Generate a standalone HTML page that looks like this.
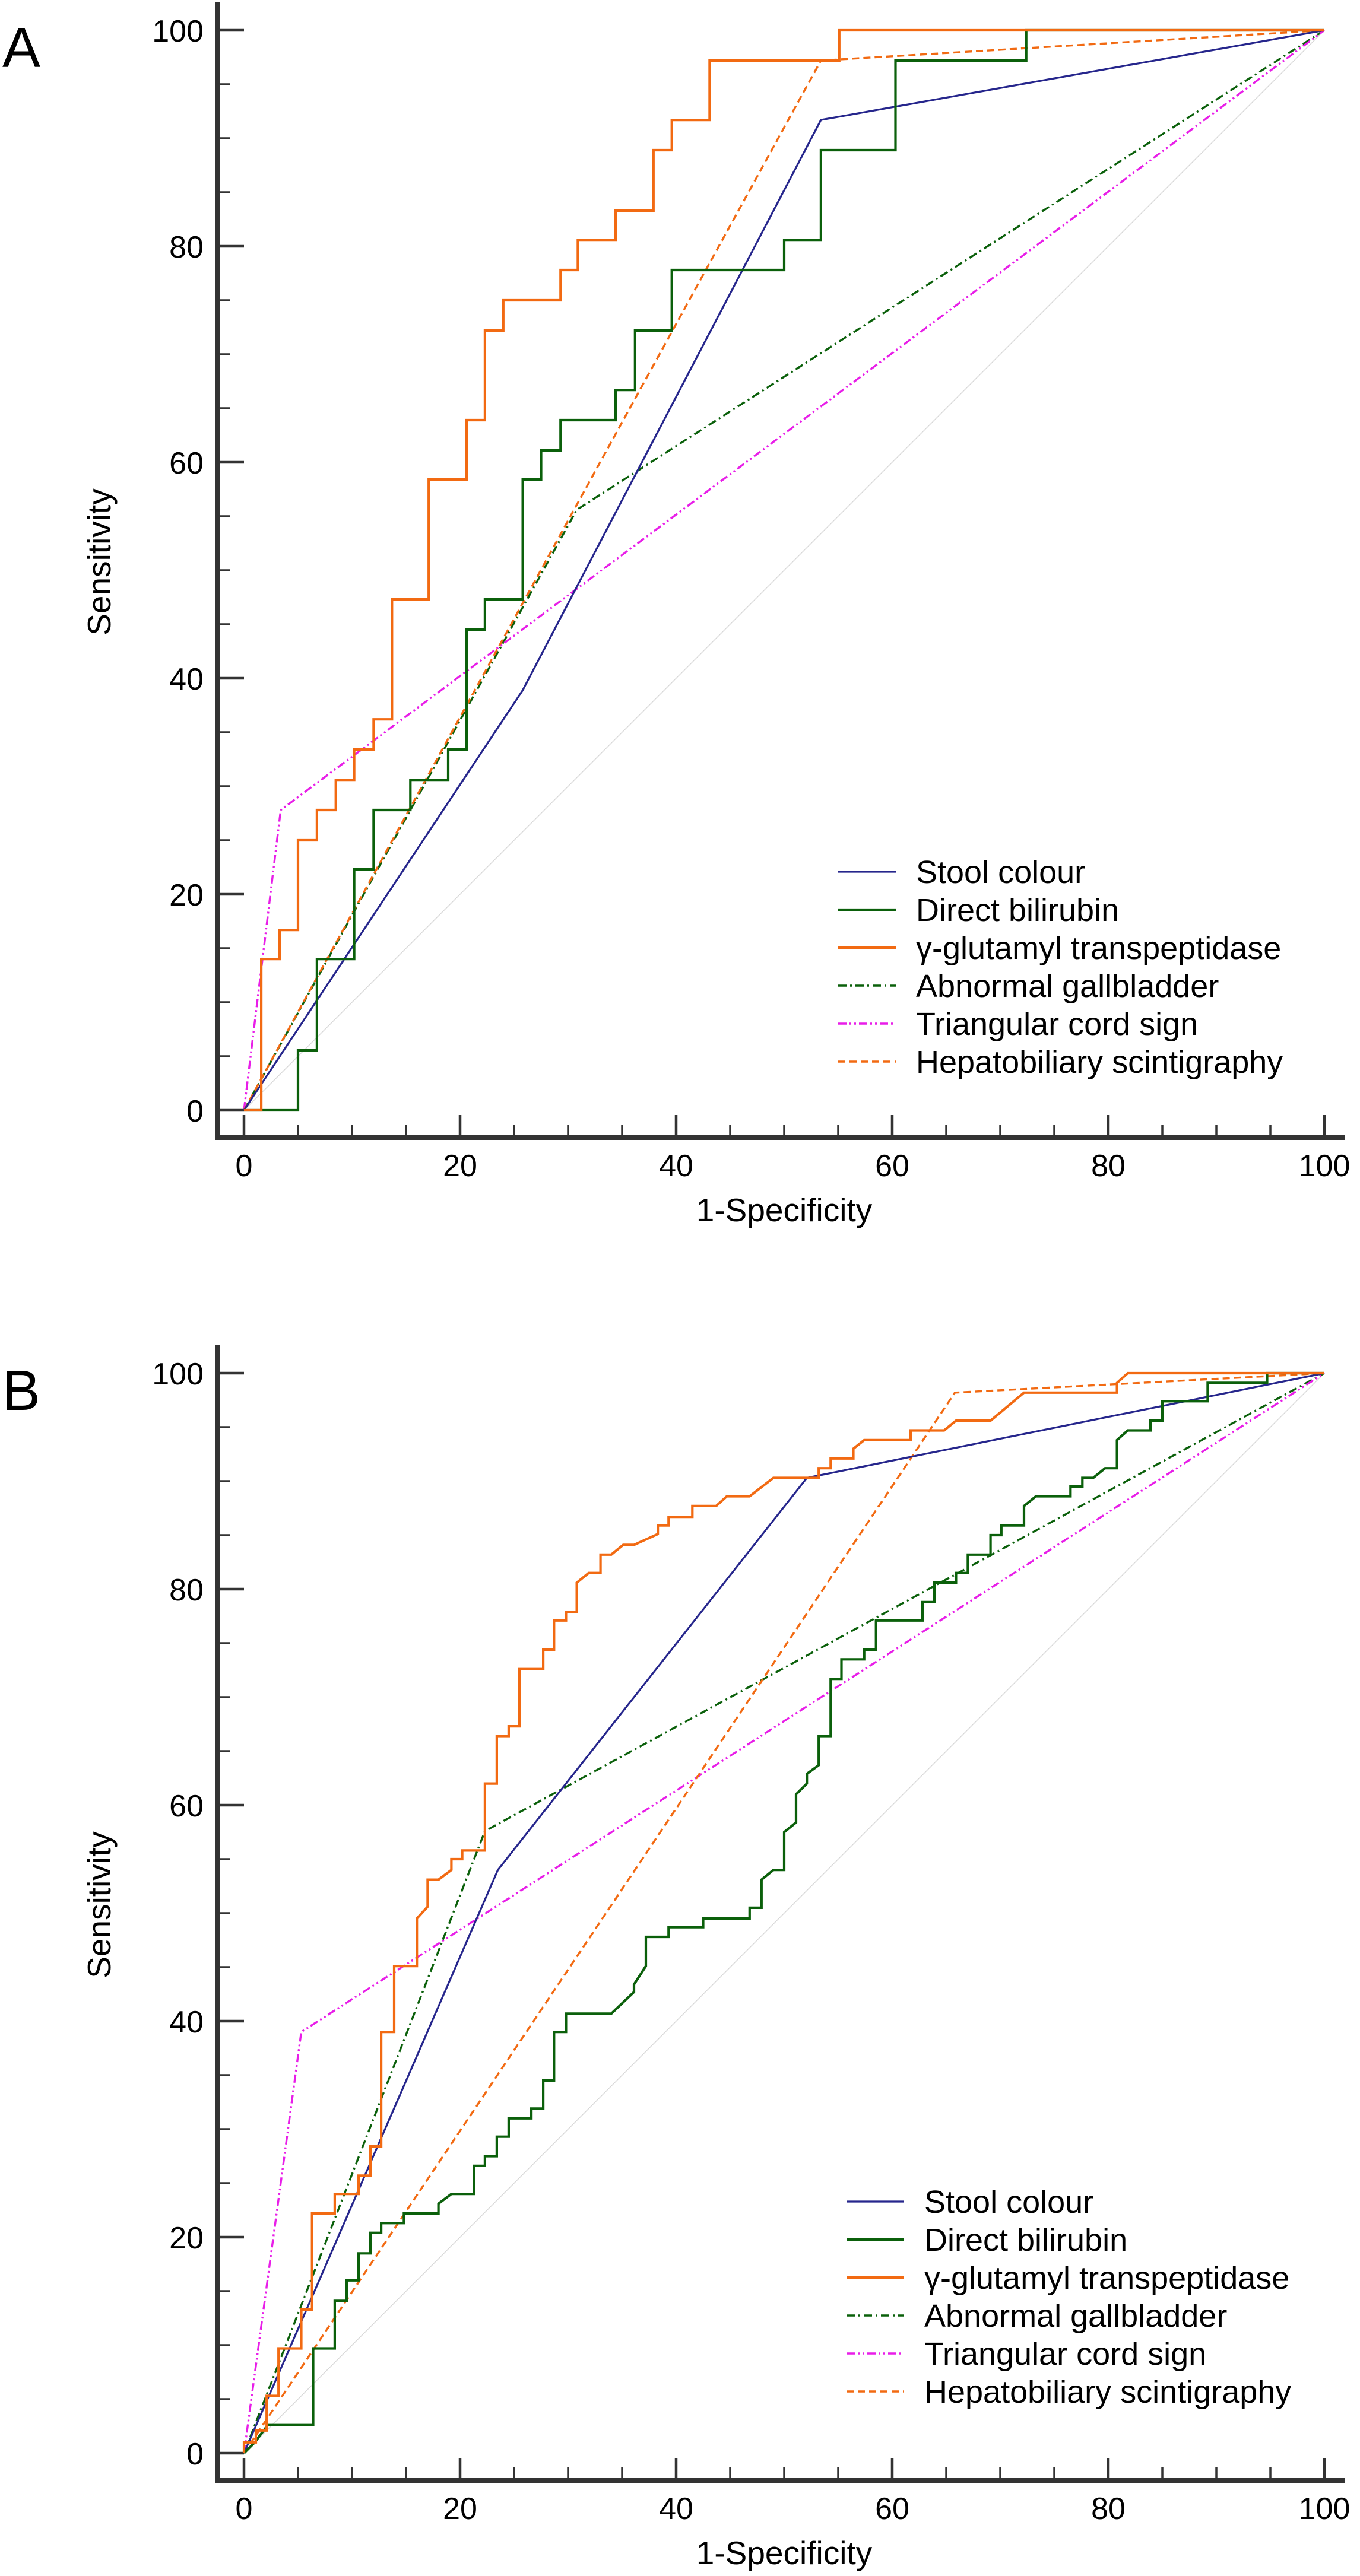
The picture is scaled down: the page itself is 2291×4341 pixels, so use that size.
<!DOCTYPE html>
<html><head><meta charset="utf-8">
<style>
html,body{margin:0;padding:0;background:#fff;}
svg{display:block;font-family:"Liberation Sans",Arial,sans-serif;}
</style></head>
<body>
<svg id="fig" width="2291" height="4341" viewBox="0 0 2291 4341" xmlns="http://www.w3.org/2000/svg">
<rect x="0" y="0" width="2291" height="4341" fill="#fff"/>
</svg>
<script>
// ---- Panel A data (1-specificity, sensitivity vertices) ----
const aStoolX = [0, 25.8, 53.4, 100];
const aStoolY = [0, 38.9, 91.7, 100];
const aBiliX = [0,5.0,5.0,6.75,6.75,10.2,10.2,12.0,12.0,15.4,15.4,18.9,18.9,20.6,20.6,22.3,22.3,25.8,25.8,27.5,27.5,29.3,29.3,34.4,34.4,36.2,36.2,39.6,39.6,50.0,50.0,53.4,53.4,60.3,60.3,72.4,72.4,100];
const aBiliY = [0,0,5.55,5.55,14.0,14.0,22.3,22.3,27.8,27.8,30.6,30.6,33.4,33.4,44.5,44.5,47.3,47.3,58.4,58.4,61.1,61.1,63.9,63.9,66.7,66.7,72.2,72.2,77.8,77.8,80.6,80.6,88.9,88.9,97.2,97.2,100,100];
const aGgtX = [0,1.6,1.6,3.3,3.3,5.0,5.0,6.75,6.75,8.5,8.5,10.2,10.2,12.0,12.0,13.7,13.7,17.1,17.1,20.6,20.6,22.3,22.3,24.0,24.0,29.3,29.3,30.9,30.9,34.4,34.4,37.9,37.9,39.6,39.6,43.1,43.1,55.1,55.1,100];
const aGgtY = [0,0,14.0,14.0,16.7,16.7,25.0,25.0,27.8,27.8,30.6,30.6,33.4,33.4,36.2,36.2,47.3,47.3,58.4,58.4,63.9,63.9,72.2,72.2,75.0,75.0,77.8,77.8,80.6,80.6,83.3,83.3,88.9,88.9,91.7,91.7,97.2,97.2,100,100];
const aGallX = [0, 30.8, 100];
const aGallY = [0, 55.6, 100];
const aCordX = [0, 3.4, 100];
const aCordY = [0, 27.8, 100];
const aHepaX = [0, 53.4, 100];
const aHepaY = [0, 97.2, 100];

// ---- Panel B data ----
const bStoolX = [0, 23.5, 52.1, 100];
const bStoolY = [0, 54.0, 90.3, 100];
const bBiliX = [0,1.0,2.2,6.4,6.4,8.4,8.4,9.5,9.5,10.6,10.6,11.7,11.7,12.7,12.7,14.8,14.8,18.0,18.0,19.2,21.3,21.3,22.3,22.3,23.4,23.4,24.5,24.5,26.6,26.6,27.7,27.7,28.7,28.7,29.8,29.8,34.0,36.1,36.1,37.2,37.2,39.3,39.3,42.5,42.5,46.8,46.8,47.9,47.9,49.0,50.0,50.0,51.1,51.1,52.1,52.1,53.2,53.2,54.3,54.3,55.3,55.3,57.4,57.4,58.5,58.5,62.8,62.8,63.9,63.9,65.9,65.9,67.0,67.0,69.1,69.1,70.1,70.1,72.2,72.2,73.3,76.5,76.5,77.6,77.6,78.6,79.7,80.8,80.8,81.8,83.9,83.9,85.0,85.0,89.2,89.2,94.7,94.7,100];
const bBiliY = [0,1.0,2.6,2.6,9.7,9.7,14.1,14.1,16.0,16.0,18.5,18.5,20.4,20.4,21.3,21.3,22.2,22.2,23.1,24.0,24.0,26.6,26.6,27.5,27.5,29.3,29.3,31.0,31.0,31.9,31.9,34.5,34.5,39.0,39.0,40.7,40.7,42.7,43.4,45.1,47.8,47.8,48.7,48.7,49.5,49.5,50.5,50.5,53.1,54.0,54.0,57.5,58.4,61.0,62.0,62.9,63.7,66.4,66.4,71.7,71.7,73.5,73.5,74.4,74.4,77.1,77.1,78.8,78.8,80.6,80.6,81.5,81.5,83.2,83.2,85.0,85.0,85.9,85.9,87.7,88.6,88.6,89.5,89.5,90.3,90.3,91.2,91.2,93.8,94.7,94.7,95.6,95.6,97.4,97.4,99.1,99.1,100,100];
const bGgtX = [0,0,1.1,1.1,2.1,2.1,3.2,3.2,5.3,5.3,6.3,6.3,8.4,8.4,10.6,10.6,11.7,11.7,12.7,12.7,13.9,13.9,16.0,16.0,17.0,17.0,18.0,19.2,19.2,20.2,20.2,22.3,22.3,23.4,23.4,24.5,24.5,25.5,25.5,27.7,27.7,28.7,28.7,29.8,29.8,30.8,30.8,31.9,33.0,33.0,34.0,35.1,36.1,38.3,38.3,39.3,39.3,41.5,41.5,43.7,44.7,46.8,49.0,53.2,53.2,54.3,54.3,56.4,56.4,57.4,61.7,61.7,64.8,65.9,69.1,72.2,80.8,80.8,81.8,100];
const bGgtY = [0,1.0,1.0,2.1,2.1,5.3,5.3,9.7,9.7,13.3,13.3,22.2,22.2,24.0,24.0,25.7,25.7,28.4,28.4,39.0,39.0,45.1,45.1,49.5,50.6,53.1,53.1,54.0,55.0,55.0,55.8,55.8,62.0,62.0,66.4,66.4,67.3,67.3,72.6,72.6,74.4,74.4,77.1,77.1,77.9,77.9,80.6,81.5,81.5,83.2,83.2,84.1,84.1,85.1,85.9,85.9,86.7,86.7,87.7,87.7,88.6,88.6,90.3,90.3,91.2,91.2,92.1,92.1,93.0,93.8,93.8,94.7,94.7,95.6,95.6,98.2,98.2,99.1,100,100];
const bGallX = [0, 22.3, 100];
const bGallY = [0, 57.6, 100];
const bCordX = [0, 5.3, 100];
const bCordY = [0, 39.0, 100];
const bHepaX = [0, 65.8, 100];
const bHepaY = [0, 98.2, 100];

// ---- Axis ticks / legend ----
const majorTicks = [0, 20, 40, 60, 80, 100];
const minorTicks = [5,10,15,25,30,35,45,50,55,65,70,75,85,90,95];
const tickLabels = ["0","20","40","60","80","100"];
const seriesNames = ["Stool colour","Direct bilirubin","\u03b3-glutamyl transpeptidase","Abnormal gallbladder","Triangular cord sign","Hepatobiliary scintigraphy"];

const NS = "http://www.w3.org/2000/svg";
const svg = document.getElementById('fig');
function mk(tag, attrs, parent){
  const e = document.createElementNS(NS, tag);
  for (const k in attrs) e.setAttribute(k, attrs[k]);
  (parent||svg).appendChild(e);
  return e;
}

const styles = [
  {stroke:"#26268c", w:3.2, dash:""},
  {stroke:"#0b600b", w:4.2, dash:""},
  {stroke:"#f26a12", w:4.2, dash:""},
  {stroke:"#0b600b", w:3.4, dash:"14 6 3 6"},
  {stroke:"#e81ee8", w:3.4, dash:"14 5 3 5 3 5"},
  {stroke:"#f26a12", w:3.4, dash:"12 7"}
];

function drawPanel(cfg){
  const X0 = 411, X1 = 2231, Y0 = cfg.y0, Y1 = cfg.y0 - 1820;
  const sx = v => X0 + (X1 - X0) * v / 100;
  const sy = v => Y0 - (Y0 - Y1) * v / 100;
  const g = mk('g', {});
  
  

  // panel letter
  const L = mk('text', {x:4, y:Y1+62, 'font-size':96, fill:'#000'}, g);
  L.textContent = cfg.letter;
  
  

  // chance line
  const ref = mk('line', {x1:sx(0), y1:sy(0), x2:sx(100), y2:sy(100), stroke:'#d8d8d8', 'stroke-width':1.5}, g);
  
  

  // axes
  const axY = Y0 + 46, axX = 366;
  const ya = mk('line', {x1:axX, y1:Y1-47, x2:axX, y2:axY+4, stroke:'#333', 'stroke-width':8}, g);
  
  
  const xa = mk('line', {x1:axX-4, y1:axY, x2:2266, y2:axY, stroke:'#333', 'stroke-width':8}, g);
  
  

  majorTicks.forEach((v,i)=>{
    const t1 = mk('line', {x1:axX, y1:sy(v), x2:axX+45, y2:sy(v), stroke:'#333', 'stroke-width':4.5}, g);
    
    
    const t2 = mk('line', {x1:sx(v), y1:axY, x2:sx(v), y2:axY-38, stroke:'#333', 'stroke-width':4.5}, g);
    
    
    const ly = mk('text', {x:343, y:sy(v)+19, 'font-size':52, 'text-anchor':'end', fill:'#000'}, g);
    ly.textContent = tickLabels[i];
    
    
    const lx = mk('text', {x:sx(v), y:axY+65, 'font-size':52, 'text-anchor':'middle', fill:'#000'}, g);
    lx.textContent = tickLabels[i];
    
    
  });
  minorTicks.forEach(v=>{
    const t1 = mk('line', {x1:axX, y1:sy(v), x2:axX+22, y2:sy(v), stroke:'#333', 'stroke-width':3.5}, g);
    
    
    const t2 = mk('line', {x1:sx(v), y1:axY, x2:sx(v), y2:axY-22, stroke:'#333', 'stroke-width':3.5}, g);
    
    
  });

  // axis titles
  const yt = mk('text', {x:0, y:0, 'font-size':55, 'text-anchor':'middle', fill:'#000', transform:`translate(186,${(Y0+Y1)/2-14}) rotate(-90)`}, g);
  yt.textContent = 'Sensitivity';
  
  
  const xt = mk('text', {x:1321, y:axY+141, 'font-size':55, 'text-anchor':'middle', fill:'#000'}, g);
  xt.textContent = '1-Specificity';
  
  

  // series (draw order: back to front)
  const order = [3,4,5,0,1,2];
  const seriesNamesKebab = ['stool-colour-curve','direct-bilirubin-curve','ggt-curve','abnormal-gallbladder-curve','triangular-cord-curve','hepatobiliary-curve'];
  order.forEach(k=>{
    const xs = cfg.series[k][0], ys = cfg.series[k][1];
    const pts = xs.map((x,i)=> sx(x).toFixed(1)+','+sy(ys[i]).toFixed(1)).join(' ');
    const st = styles[k];
    const p = mk('polyline', {points:pts, fill:'none', stroke:st.stroke, 'stroke-width':st.w, 'stroke-dasharray':st.dash, 'stroke-linejoin':'miter'}, g);
    
    
  });

  // legend
  const lg = mk('g', {}, g);
  
  
  seriesNames.forEach((n,i)=>{
    const ry = cfg.legY + i*64;
    const st = styles[i];
    const e = mk('g', {}, lg);
    
    
    mk('line', {x1:cfg.legX, y1:ry, x2:cfg.legX+97, y2:ry, stroke:st.stroke, 'stroke-width':st.w, 'stroke-dasharray':st.dash}, e);
    const t = mk('text', {x:cfg.legX+131, y:ry+19, 'font-size':54, fill:'#000'}, e);
    t.textContent = n;
  });
}

drawPanel({name:'panel-a', letter:'A', y0:1871, legX:1412, legY:1469,
  series:[[aStoolX,aStoolY],[aBiliX,aBiliY],[aGgtX,aGgtY],[aGallX,aGallY],[aCordX,aCordY],[aHepaX,aHepaY]]});
drawPanel({name:'panel-b', letter:'B', y0:4134, legX:1426, legY:3710,
  series:[[bStoolX,bStoolY],[bBiliX,bBiliY],[bGgtX,bGgtY],[bGallX,bGallY],[bCordX,bCordY],[bHepaX,bHepaY]]});
</script>
</body></html>
